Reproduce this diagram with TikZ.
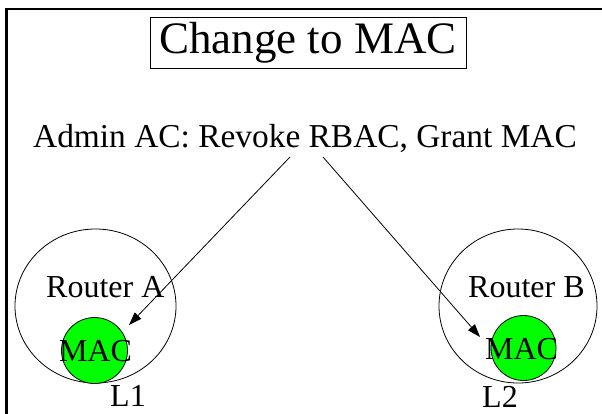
\documentclass[tikz,border=0pt]{standalone}
\usepackage{fontspec}
\setmainfont{Liberation Serif}
\usetikzlibrary{shapes.geometric,arrows.meta}
\tikzset{
  routerbox/.style={draw, ellipse, line width=0.8bp, inner sep=0pt},
  macdot/.style={draw, circle, fill=green, line width=0.8bp, inner sep=0pt, minimum size=66bp},
  lbl/.style={font=\fontsize{32bp}{36bp}\selectfont, inner sep=0pt},
  push/.style={-{Triangle[length=13bp,width=9bp]}, line width=0.8bp}
}
\begin{document}
\begin{tikzpicture}[x=1bp,y=-1bp]
  \useasboundingbox (0,0) rectangle (602,413);
  \clip (0,0) rectangle (602,413);
  \fill[white] (0,0) rectangle (602,413);
  % outer frame running off the page on the right and at the bottom
  \draw[line width=2.5bp] (6.5,9) rectangle (650,460);

  % heading
  \node[draw, line width=0.8bp, font=\fontsize{45bp}{50bp}\selectfont,
        minimum width=316bp, minimum height=51bp, inner sep=0pt] (title) at (308,43) {Change to MAC};

  % command line
  \node[lbl, font=\fontsize{33.4bp}{38bp}\selectfont, anchor=base] (admin) at (305,147) {Admin AC: Revoke RBAC, Grant MAC};

  % router A
  \node[routerbox, minimum width=161bp, minimum height=154bp] (ra) at (95.5,306) {};
  \node[macdot] (maca) at (94.5,350.5) {};
  \node[lbl, anchor=base west] (rla) at (46,297) {Router A};
  \node[lbl, anchor=base] (ta) at (95.5,361) {MAC};
  \node[lbl, anchor=base west] (l1) at (110,406) {L1};

  % router B
  \node[routerbox, minimum width=158bp, minimum height=154bp] (rb) at (518,306) {};
  \node[macdot, minimum size=65bp] (macb) at (523.5,348) {};
  \node[lbl, anchor=base west] (rlb) at (468,297) {Router B};
  \node[lbl, anchor=base] (tb) at (521.5,359) {MAC};
  \node[lbl, anchor=base west] (l2) at (482,407) {L2};

  % the two grants
  \coordinate (sa) at (290,157);
  \coordinate (sb) at (323,157);
  \coordinate (ea) at (129,325);
  \coordinate (eb) at (480,337);
  \draw[push] (sa) -- (ea);
  \draw[push] (sb) -- (eb);
\end{tikzpicture}
\end{document}
